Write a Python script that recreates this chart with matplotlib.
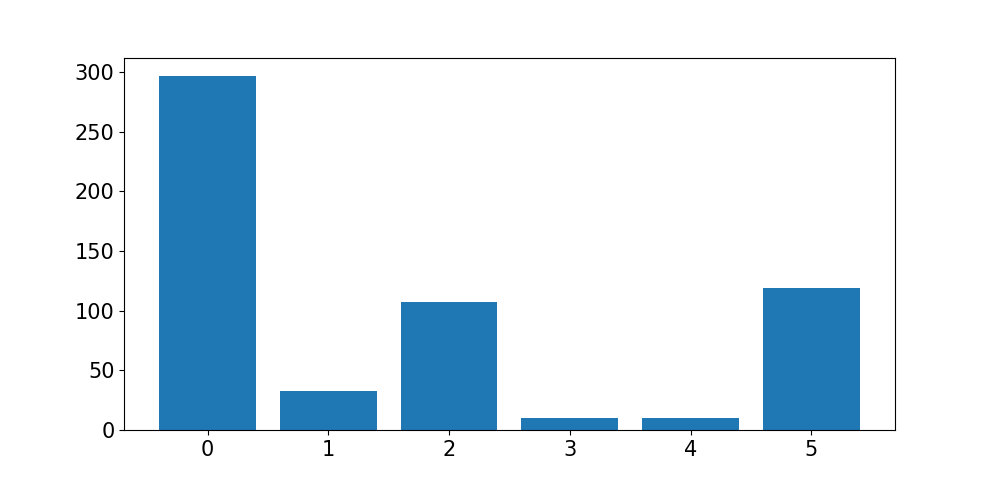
import matplotlib
matplotlib.use("Agg")
import matplotlib.pyplot as plt

categories = [0, 1, 2, 3, 4, 5]
values = [297, 33, 107, 10, 10, 119]

fig, ax = plt.subplots(figsize=(9.94, 4.83), dpi=100)
ax.bar(categories, values, color="#1f77b4")
ax.set_xticks(categories)
ax.tick_params(labelsize=15)
fig.savefig("out.png", dpi=100)
